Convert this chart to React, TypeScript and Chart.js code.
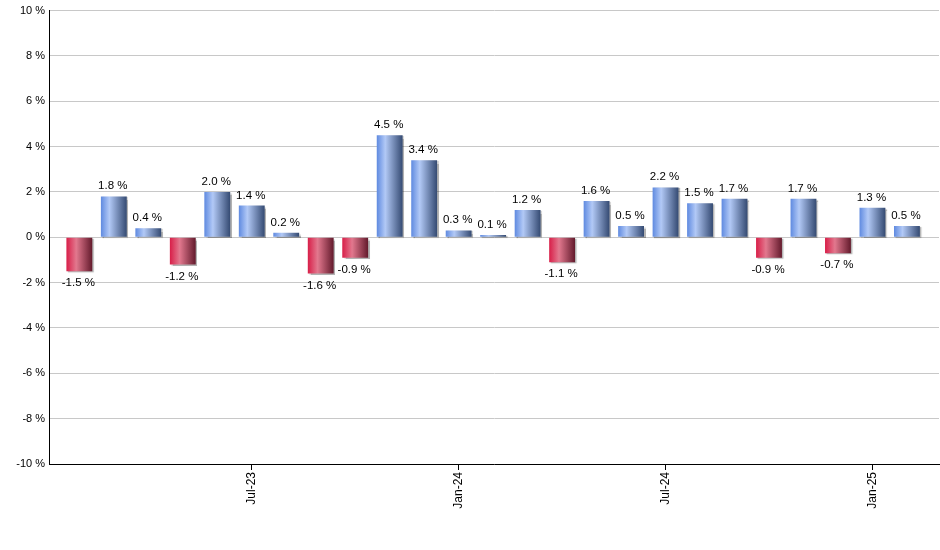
import React, { useEffect, useRef } from "react";
import { Chart, registerables } from "chart.js";

Chart.register(...registerables);

const months = [
  "Feb-23", "Mar-23", "Apr-23", "May-23", "Jun-23", "Jul-23", "Aug-23", "Sep-23", "Oct-23", "Nov-23",
  "Dec-23", "Jan-24", "Feb-24", "Mar-24", "Apr-24", "May-24", "Jun-24", "Jul-24", "Aug-24", "Sep-24",
  "Oct-24", "Nov-24", "Dec-24", "Jan-25", "Feb-25",
];
const returns = [
  -1.5, 1.8, 0.4, -1.2, 2.0, 1.4, 0.2, -1.6, -0.9, 4.5,
  3.4, 0.3, 0.1, 1.2, -1.1, 1.6, 0.5, 2.2, 1.5, 1.7,
  -0.9, 1.7, -0.7, 1.3, 0.5,
];
const tickMonths = ["Jul-23", "Jan-24", "Jul-24", "Jan-25"];
const yTicks = [-10, -8, -6, -4, -2, 0, 2, 4, 6, 8, 10];

const FONT = "'Liberation Sans', Arial, sans-serif";

const gradientPlugin = {
  id: "barGradients",
  beforeDatasetsDraw(chart: any) {
    const ctx = chart.ctx;
    const meta = chart.getDatasetMeta(0);
    meta.data.forEach((el: any, i: number) => {
      const left = el.x - el.width / 2;
      const right = el.x + el.width / 2;
      const g = ctx.createLinearGradient(left, 0, right, 0);
      if (returns[i] >= 0) {
        g.addColorStop(0, "#5f8ae0");
        g.addColorStop(0.33, "#b2c9f6");
        g.addColorStop(1, "#344a72");
      } else {
        g.addColorStop(0, "#d81e48");
        g.addColorStop(0.38, "#e2788e");
        g.addColorStop(1, "#631a2c");
      }
      el.options.backgroundColor = g;
    });
  },
  beforeDatasetDraw(chart: any) {
    const ctx = chart.ctx;
    ctx.save();
    ctx.shadowColor = "rgba(0,0,0,0.3)";
    ctx.shadowOffsetX = 1.5;
    ctx.shadowOffsetY = 1;
    ctx.shadowBlur = 1;
  },
  afterDatasetDraw(chart: any) {
    chart.ctx.restore();
  },
  afterDatasetsDraw(chart: any) {
    const ctx = chart.ctx;
    const meta = chart.getDatasetMeta(0);
    ctx.save();
    ctx.font = `11.5px ${FONT}`;
    ctx.fillStyle = "#000";
    ctx.textAlign = "center";
    ctx.textBaseline = "alphabetic";
    meta.data.forEach((el: any, i: number) => {
      const v = returns[i];
      const text = `${v.toFixed(1)} %`;
      if (v >= 0) {
        ctx.fillText(text, el.x - 1, el.y - 7);
      } else {
        ctx.fillText(text, el.x - 1, el.y + 15);
      }
    });
    ctx.restore();
  },
};

export default function App() {
  const ref = useRef<HTMLCanvasElement>(null);
  useEffect(() => {
    if (!ref.current) return;
    const chart = new Chart(ref.current, {
      type: "bar",
      data: {
        datasets: [
          {
            data: returns.map((v, i) => ({ x: i, y: v })),
            backgroundColor: returns.map((v) => (v >= 0 ? "#6f95e4" : "#c8304f")),
            borderWidth: 0,
            barPercentage: 0.75,
            categoryPercentage: 1,
          },
        ],
      },
      options: {
        animation: false,
        responsive: true,
        maintainAspectRatio: false,
        layout: { padding: { top: 9, right: 1, left: 0, bottom: 0 } },
        plugins: { legend: { display: false }, tooltip: { enabled: false } },
        scales: {
          x: {
            type: "linear",
            offset: false,
            min: -0.88,
            max: 24.93,
            afterBuildTicks: (scale: any) => {
              scale.ticks = tickMonths.map((m) => ({ value: months.indexOf(m) }));
            },
            afterFit: (scale: any) => {
              scale.height = 86;
            },
            ticks: {
              autoSkip: false,
              minRotation: 90,
              maxRotation: 90,
              padding: 2,
              color: "#000",
              font: { family: FONT, size: 12 },
              callback: (v: any) => months[Math.round(Number(v))] ?? "",
            },
            grid: {
              display: true,
              offset: false,
              drawOnChartArea: false,
              drawTicks: true,
              tickLength: 6,
              color: "#000",
            },
            border: { display: true, color: "#000", width: 1 },
          },
          y: {
            min: -10,
            max: 10,
            afterBuildTicks: (scale: any) => {
              scale.ticks = yTicks.map((v) => ({ value: v }));
            },
            afterFit: (scale: any) => {
              scale.width = 49;
            },
            ticks: {
              padding: 4,
              color: "#000",
              font: { family: FONT, size: 11 },
              callback: (v: any) => `${v} %`,
            },
            grid: { color: "#c8c8c8", drawTicks: false },
            border: { display: true, color: "#000", width: 1 },
          },
        },
      },
      plugins: [gradientPlugin],
    });
    return () => chart.destroy();
  }, []);
  return (
    <div style={{ position: "absolute", left: 0, top: 0, width: 940, height: 550, background: "#fff" }}>
      <canvas ref={ref} />
    </div>
  );
}
